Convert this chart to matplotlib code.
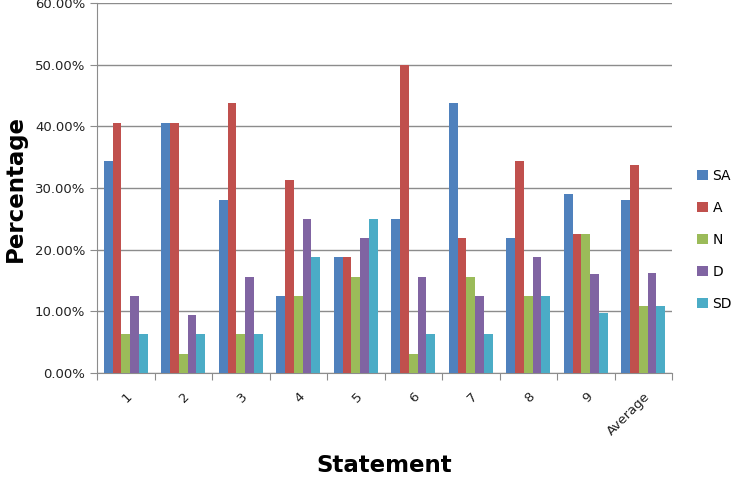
import numpy as np
import matplotlib
matplotlib.use("Agg")
import matplotlib.pyplot as plt
from matplotlib.ticker import PercentFormatter

statements = ["1", "2", "3", "4", "5", "6", "7", "8", "9", "Average"]
series_names = ["SA", "A", "N", "D", "SD"]
colors = ["#4F81BD", "#C0504D", "#9BBB59", "#8064A2", "#4BACC6"]

sa = [34.4, 40.6, 28.1, 12.5, 18.75, 25.0, 43.75, 21.9, 29.0, 28.1]
a = [40.6, 40.6, 43.75, 31.25, 18.75, 50.0, 21.9, 34.4, 22.6, 33.8]
n = [6.25, 3.1, 6.25, 12.5, 15.6, 3.1, 15.6, 12.5, 22.6, 10.8]
d = [12.5, 9.4, 15.6, 25.0, 21.9, 15.5, 12.5, 18.75, 16.0, 16.2]
sd = [6.25, 6.25, 6.25, 18.75, 25.0, 6.25, 6.25, 12.5, 9.7, 10.9]
values = [sa, a, n, d, sd]

fig = plt.figure(figsize=(7.34, 4.92), dpi=100)
ax = fig.add_axes([97/734, 119/492, 575/734, 370/492])

x = np.arange(len(statements))
w = 0.153
for i, (name, vals) in enumerate(zip(series_names, values)):
    ax.bar(x + (i - 2) * w, vals, w, color=colors[i], label=name, zorder=3)

ax.set_xlim(-0.5, len(statements) - 0.5)
ax.set_ylim(0, 60)
ax.set_yticks(np.arange(0, 61, 10))
ax.yaxis.set_major_formatter(PercentFormatter(decimals=2))
ax.yaxis.grid(True, color="#8c8c8c", linewidth=1, zorder=0)

ax.set_xticks(np.arange(-0.5, len(statements), 1))
ax.set_xticklabels([])
ax.set_xticks(x, minor=True)
ax.set_xticklabels(statements, minor=True, rotation=45, ha="right", va="top",
                   rotation_mode="anchor", fontsize=9.5, color="#222222")
ax.tick_params(axis="x", which="minor", length=0, pad=12)
ax.tick_params(axis="x", which="major", length=5, color="#8c8c8c", direction="out")
ax.tick_params(axis="y", length=5, color="#8c8c8c", labelsize=9.5, labelcolor="#222222")

for side in ["top", "right"]:
    ax.spines[side].set_visible(False)
for side in ["left", "bottom"]:
    ax.spines[side].set_color("#8c8c8c")

ax.set_ylabel("Percentage", fontsize=16.5, fontweight="bold", labelpad=6)
ax.set_xlabel("Statement", fontsize=16.5, fontweight="bold", labelpad=12)

leg = ax.legend(loc="center left", bbox_to_anchor=(1.027, 0.36), frameon=False,
                handlelength=0.8, handleheight=0.8, labelspacing=1.3,
                fontsize=10, handletextpad=0.3, borderaxespad=0.3)

fig.savefig("out.png", dpi=100)
